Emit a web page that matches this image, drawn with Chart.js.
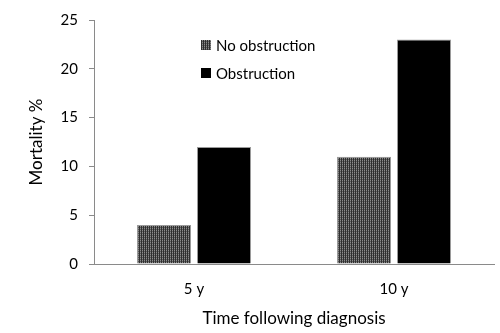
<!DOCTYPE html>
<html>
<head>
<meta charset="utf-8">
<script src="https://cdn.jsdelivr.net/npm/chart.js@4/dist/chart.umd.min.js"></script>
<style>
  html, body { margin: 0; padding: 0; background: #fff; }
  #wrap { width: 500px; height: 333px; }
</style>
</head>
<body>
<div id="wrap"><canvas id="chart" width="500" height="333"></canvas></div>
<script>
const categories = ['5 y', '10 y'];
const seriesNames = ['No obstruction', 'Obstruction'];
const noObstruction = [4, 11];
const obstruction = [12, 23];
const yTicks = [0, 5, 10, 15, 20, 25];

const FONT = 'Lato, "Open Sans", sans-serif';
const AXIS_GREY = '#8a8a8a';

// 2x2 tile: dark columns with a dotted lighter column between them
function makeHatch() {
  const c = document.createElement('canvas');
  c.width = 2; c.height = 2;
  const g = c.getContext('2d');
  g.fillStyle = '#2f2f2f';
  g.fillRect(0, 0, 2, 2);
  g.fillStyle = '#8c8c8c';
  g.fillRect(0, 0, 1, 1);
  g.fillStyle = '#5c5c5c';
  g.fillRect(0, 1, 1, 1);
  return g.createPattern(c, 'repeat');
}

const ctx = document.getElementById('chart').getContext('2d');
const hatch = makeHatch();

// legend drawn inside the plot, top-left of centre
const insideLegend = {
  id: 'insideLegend',
  afterDraw(chart) {
    const g = chart.ctx;
    const x = 201, rows = [45, 73], box = 10;
    g.save();
    g.font = '15px ' + FONT;
    g.textBaseline = 'middle';
    chart.data.datasets.forEach((ds, i) => {
      const y = rows[i];
      g.fillStyle = ds.backgroundColor;
      g.fillRect(x, y - box / 2, box, box);
      g.fillStyle = '#000';
      g.fillText(ds.label, x + 15, y + 1);
    });
    g.restore();
  }
};

const barStyle = {
  borderColor: '#9a9a9a',
  borderWidth: 1,
  borderSkipped: 'bottom',
  categoryPercentage: 0.6,
  barPercentage: 0.9
};

new Chart(ctx, {
  type: 'bar',
  data: {
    labels: categories,
    datasets: [
      { label: seriesNames[0], data: noObstruction, backgroundColor: hatch, ...barStyle },
      { label: seriesNames[1], data: obstruction, backgroundColor: '#000000', ...barStyle }
    ]
  },
  options: {
    responsive: false,
    animation: false,
    devicePixelRatio: 1,
    layout: { padding: { top: 16, right: 6, left: 24, bottom: 0 } },
    plugins: {
      legend: { display: false },
      tooltip: { enabled: false }
    },
    scales: {
      x: {
        grid: { display: false },
        border: { display: true, color: AXIS_GREY, width: 1 },
        ticks: { color: '#000', font: { family: FONT, size: 15 }, padding: 8 },
        title: {
          display: true,
          text: 'Time following diagnosis',
          color: '#000',
          font: { family: FONT, size: 17 },
          padding: { top: 10 }
        },
        afterFit(scale) { scale.height = 69; }
      },
      y: {
        min: 0,
        max: 25,
        afterBuildTicks(scale) { scale.ticks = yTicks.map(v => ({ value: v })); },
        grid: { drawOnChartArea: false, color: AXIS_GREY, tickLength: 5 },
        border: { display: true, color: AXIS_GREY, width: 1 },
        ticks: { color: '#000', font: { family: FONT, size: 15 }, padding: 11 },
        title: {
          display: true,
          text: 'Mortality %',
          color: '#000',
          font: { family: FONT, size: 17 },
          padding: { top: 2, bottom: 10 }
        },
        afterFit(scale) { scale.width = 70; }
      }
    }
  },
  plugins: [insideLegend]
});
</script>
</body>
</html>
